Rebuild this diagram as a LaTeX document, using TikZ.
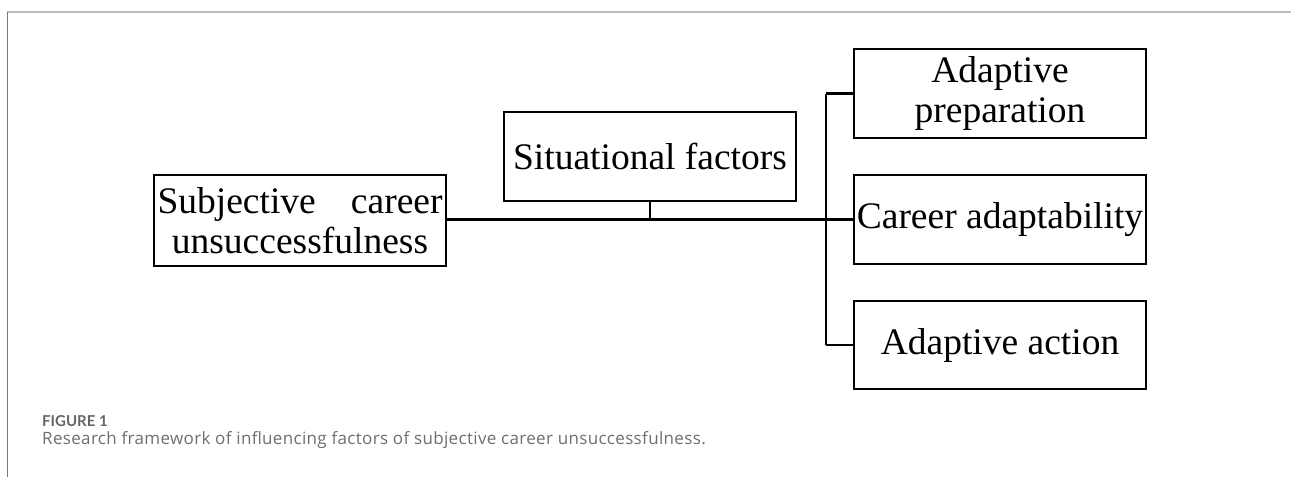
\documentclass[tikz,border=0pt]{standalone}
\usepackage{fontspec}
\setmainfont{Liberation Serif}
\newfontfamily\capfont[LetterSpace=2]{Open Sans}
\newfontfamily\figfont{Lato}
\definecolor{capgrey}{HTML}{6E6E6E}
\definecolor{figgrey}{HTML}{666666}
\definecolor{framegrey}{HTML}{BBBBBB}
\definecolor{leftgrey}{HTML}{777777}
\begin{document}
\begin{tikzpicture}[x=1pt,y=-1pt,
  box/.style={draw,line width=2.2pt,minimum width=292pt,inner sep=0pt,align=center,
    font=\fontsize{37.5}{40}\selectfont},
  link/.style={line width=2.2pt}]
\useasboundingbox (0,0) rectangle (1291,477);
\draw[framegrey,line width=1.8pt] (7,12) -- (1291,12);
\draw[leftgrey,line width=1pt] (7,12) -- (7,477);
\node[box,minimum height=91pt] (L) at (300,220.5) {\makebox[285pt]{Subjective\hfill career}\\unsuccessfulness};
\node[box,minimum height=89pt] (S) at (650,156.5) {Situational factors};
\node[box,minimum height=89pt] (R1) at (1000,93.5) {Adaptive\\preparation};
\node[box,minimum height=89pt] (R2) at (1000,219.5) {Career adaptability};
\node[box,minimum height=88pt] (R3) at (1000,345) {Adaptive action};
\coordinate (J) at (826,219.5);
\coordinate (T) at (S.south |- J);
\draw[link] (L.east |- J) -- (R2.west);
\draw[link] (S.south) -- (T);
\draw[link] (J |- R1.west) -- (R1.west);
\draw[link] (J |- R3.west) -- (R3.west);
\draw[link] (J |- R1.west) -- (J |- R3.west);
\node[anchor=base west,inner sep=0pt,font=\figfont\bfseries\fontsize{15}{15}\selectfont,text=figgrey] (F) at (42,426) {FIGURE 1};
\node[anchor=base west,inner sep=0pt,font=\capfont\fontsize{17}{17}\selectfont,text=capgrey] (C) at (42,444) {Research framework of influencing factors of subjective career unsuccessfulness.};
\end{tikzpicture}
\end{document}
